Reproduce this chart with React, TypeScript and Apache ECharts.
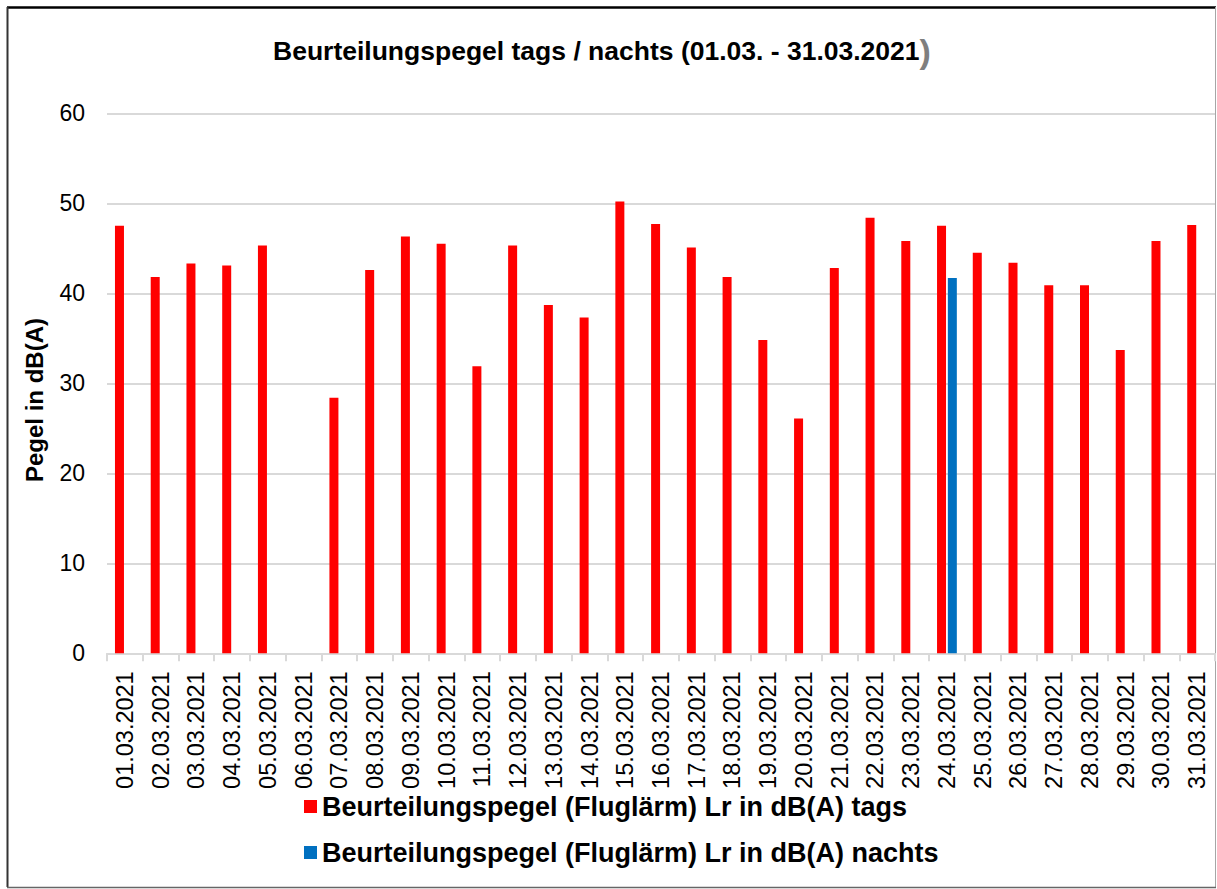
import React, { useEffect, useRef } from "react";
import * as echarts from "echarts";

const dates = [
  "01.03.2021", "02.03.2021", "03.03.2021", "04.03.2021", "05.03.2021", "06.03.2021",
  "07.03.2021", "08.03.2021", "09.03.2021", "10.03.2021", "11.03.2021", "12.03.2021",
  "13.03.2021", "14.03.2021", "15.03.2021", "16.03.2021", "17.03.2021", "18.03.2021",
  "19.03.2021", "20.03.2021", "21.03.2021", "22.03.2021", "23.03.2021", "24.03.2021",
  "25.03.2021", "26.03.2021", "27.03.2021", "28.03.2021", "29.03.2021", "30.03.2021",
  "31.03.2021",
];

const tags: (number | null)[] = [
  47.5, 41.8, 43.3, 43.1, 45.3, null, 28.4, 42.6, 46.3, 45.5, 31.9, 45.3, 38.7, 37.3,
  50.2, 47.7, 45.1, 41.8, 34.8, 26.1, 42.8, 48.4, 45.8, 47.5, 44.5, 43.4, 40.9, 40.9,
  33.7, 45.8, 47.6,
];

const nachts: (number | null)[] = [
  null, null, null, null, null, null, null, null, null, null, null, null, null, null,
  null, null, null, null, null, null, null, null, null, 41.7, null, null, null, null,
  null, null, null,
];

const yTicks = { min: 0, max: 60, interval: 10 };

const seriesNames = [
  "Beurteilungspegel (Fluglärm) Lr in dB(A) tags",
  "Beurteilungspegel (Fluglärm) Lr in dB(A) nachts",
];

const FONT = '"Liberation Sans", Arial, sans-serif';

export default function App() {
  const ref = useRef<HTMLDivElement>(null);

  useEffect(() => {
    document.body.style.margin = "0";
    const chart = echarts.init(ref.current!, null, { renderer: "svg" });
    chart.setOption({
      animation: false,
      backgroundColor: "#ffffff",
      textStyle: { fontFamily: FONT },
      title: {
        text: "{a|Beurteilungspegel tags / nachts (01.03. - 31.03.2021}{b|)}",
        left: 268,
        top: 29,
        textStyle: {
          rich: {
            a: { fontSize: 26.5, fontWeight: "bold", color: "#000", fontFamily: FONT },
            b: { fontSize: 34, color: "#7f7f7f", fontFamily: FONT },
          },
        },
      },
      legend: {
        orient: "vertical",
        left: 299,
        top: 788,
        itemWidth: 13,
        itemHeight: 13,
        itemGap: 19,
        icon: "rect",
        textStyle: { fontSize: 27, fontWeight: "bold", color: "#000", fontFamily: FONT },
        data: seriesNames,
      },
      grid: { left: 107, right: 2, top: 113.3, bottom: 889 - 653.3, containLabel: false },
      xAxis: {
        type: "category",
        data: dates,
        axisLine: { lineStyle: { color: "#d9d9d9", width: 2 } },
        axisTick: { show: true, length: 8, lineStyle: { color: "#d9d9d9", width: 2 } },
        axisLabel: { rotate: 90, fontSize: 23.5, color: "#000", margin: 18, fontFamily: FONT },
      },
      yAxis: {
        type: "value",
        min: yTicks.min,
        max: yTicks.max,
        interval: yTicks.interval,
        axisLine: { show: false },
        axisTick: { show: false },
        splitLine: { lineStyle: { color: "#d9d9d9", width: 2 } },
        axisLabel: { fontSize: 23, color: "#000", margin: 22, fontFamily: FONT },
      },
      series: [
        {
          name: seriesNames[0],
          type: "bar",
          data: tags,
          barWidth: 9,
          barGap: "20%",
          itemStyle: { color: "#ff0000" },
        },
        {
          name: seriesNames[1],
          type: "bar",
          data: nachts,
          barWidth: 9,
          itemStyle: { color: "#0070c0" },
        },
      ],
      graphic: [
        {
          type: "text",
          x: 34,
          y: 400,
          rotation: Math.PI / 2,
          style: {
            text: "Pegel in dB(A)",
            fontSize: 24,
            fontWeight: "bold",
            fill: "#000",
            fontFamily: FONT,
            textAlign: "center",
            textVerticalAlign: "middle",
          },
        },
        { type: "line", shape: { x1: 7, y1: 7.5, x2: 1216, y2: 7.5 }, style: { stroke: "#000", lineWidth: 2.5 } },
        { type: "line", shape: { x1: 7.5, y1: 7, x2: 7.5, y2: 887 }, style: { stroke: "#333", lineWidth: 2 } },
        { type: "line", shape: { x1: 1215.5, y1: 7, x2: 1215.5, y2: 887 }, style: { stroke: "#a6a6a6", lineWidth: 1 } },
        { type: "line", shape: { x1: 7, y1: 887.5, x2: 1216, y2: 887.5 }, style: { stroke: "#666", lineWidth: 1.5 } },
      ],
    });
    return () => chart.dispose();
  }, []);

  return <div ref={ref} style={{ width: 1217, height: 889 }} />;
}
